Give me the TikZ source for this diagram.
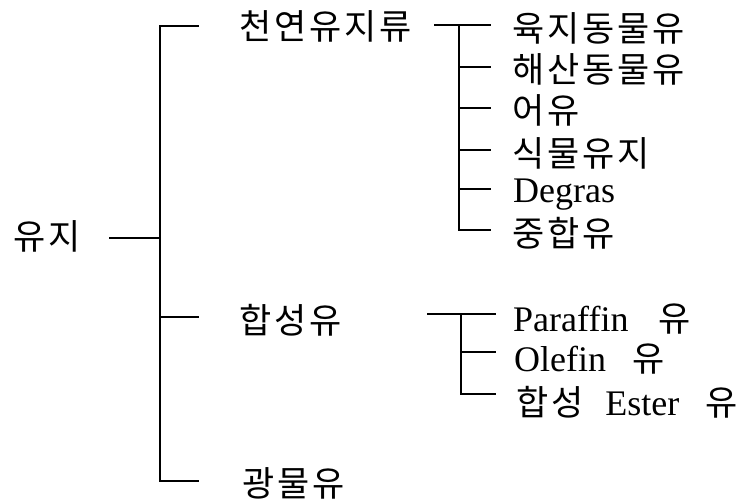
\documentclass[tikz,border=0pt]{standalone}
\usepackage{fontspec}
\setmainfont{Liberation Serif}
\newfontfamily\kr[LetterSpace=8]{Noto Sans CJK KR}
\newcommand{\krs}{\kr\fontsize{35}{40}\selectfont}
\begin{document}
\begin{tikzpicture}[x=1pt,y=-1pt,
  kor/.style={anchor=base west, inner sep=0pt, font=\krs},
  lat/.style={anchor=base west, inner sep=0pt, font=\fontsize{36}{40}\selectfont},
  ln/.style={line width=1.8pt, line cap=rect}]
\useasboundingbox (0,0) rectangle (752,503);
% texts
\node[kor] (root) at (13,249) {유지};
\node[kor] (n1) at (239,40) {천연유지류};
\node[kor] (n2) at (239,333) {합성유};
\node[kor] (n3) at (242,496) {광물유};
\node[kor] (a1) at (512,42) {육지동물유};
\node[kor] (a2) at (512,82) {해산동물유};
\node[kor] (a3) at (512,123) {어유};
\node[kor] (a4) at (512,166) {식물유지};
\node[lat] (a5) at (513,202) {Degras};
\node[kor] (a6) at (512,246) {중합유};
\node[lat] (b1) at (513,331) {Paraffin\hspace{30pt}{\krs 유}};
\node[lat] (b2) at (514,371) {Olefin\hspace{26pt}{\krs 유}};
\node[lat] (b3) at (516,415) {{\krs 합성}\hspace{22pt}Ester\hspace{26pt}{\krs 유}};
% junction coordinates
\coordinate (r0) at (110,238);
\coordinate (s0) at (160,238);
\coordinate (sT) at (160,26);
\coordinate (sB) at (160,481);
\coordinate (e1) at (198,26);
\coordinate (s2) at (160,317);
\coordinate (e2) at (198,317);
\coordinate (e3) at (198,481);
% group 1
\coordinate (g1s) at (435,25);
\coordinate (g1T) at (459,25);
\coordinate (g1B) at (459,230);
\coordinate (c1) at (490,25);
\coordinate (c2) at (490,67);
\coordinate (c3) at (490,108);
\coordinate (c4) at (490,150);
\coordinate (c5) at (490,189);
\coordinate (c6) at (490,230);
% group 2
\coordinate (g2s) at (428,314);
\coordinate (g2T) at (461,314);
\coordinate (g2B) at (461,394);
\coordinate (d1) at (495,314);
\coordinate (d2) at (495,352);
\coordinate (d3) at (495,394);
% lines
\draw[ln] (r0) -- (s0);
\draw[ln] (e1) -- (sT) -- (sB) -- (e3);
\draw[ln] (s2) -- (e2);
\draw[ln] (g1s) -- (c1);
\draw[ln] (g1T) -- (g1B) -- (c6);
\foreach \c in {c2,c3,c4,c5} \draw[ln] (g1T |- \c) -- (\c);
\draw[ln] (g2s) -- (d1);
\draw[ln] (g2T) -- (g2B) -- (d3);
\draw[ln] (g2T |- d2) -- (d2);
\end{tikzpicture}
\end{document}
